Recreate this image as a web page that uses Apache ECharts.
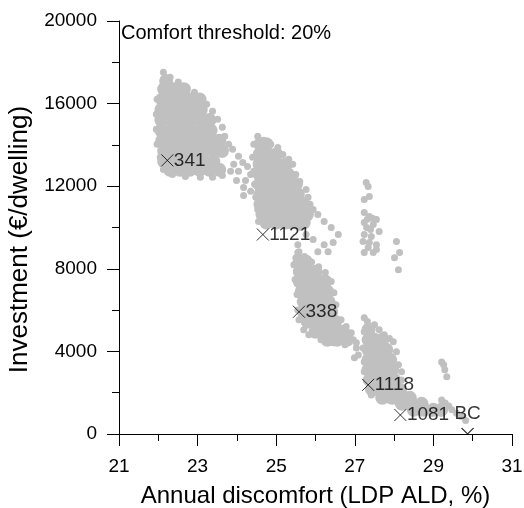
<!DOCTYPE html>
<html>
<head>
<meta charset="utf-8">
<script src="https://cdn.jsdelivr.net/npm/echarts@6/dist/echarts.min.js"></script>
<style>
  html, body { margin: 0; padding: 0; background: #fff; }
  #chart { width: 524px; height: 508px; }
</style>
</head>
<body>
<div id="chart"></div>
<script>
var FONT = 'Liberation Sans, Arial, sans-serif';

// axis ticks
var xTicks = [21, 23, 25, 27, 29, 31];
var yTicks = [0, 4000, 8000, 12000, 16000, 20000];

// dense cores of each cloud (drawn with big dots) and the loose rim dots
var cloud1Core = [
  [22.2,17100],
  [22.15,16700],[22.4,16700],[22.65,16700],
  [22.1,16200],[22.35,16200],[22.6,16200],[22.85,16200],[23.05,16200],
  [22.08,15700],[22.33,15700],[22.58,15700],[22.83,15700],[23.08,15700],
  [22.08,15200],[22.33,15200],[22.58,15200],[22.83,15200],[23.08,15200],[23.3,15200],
  [22.08,14700],[22.33,14700],[22.58,14700],[22.83,14700],[23.08,14700],[23.33,14700],
  [22.1,14200],[22.35,14200],[22.6,14200],[22.85,14200],[23.1,14200],[23.35,14200],[23.55,14200],
  [22.15,13700],[22.4,13700],[22.65,13700],[22.9,13700],[23.15,13700],[23.4,13700],[23.62,13700],
  [22.15,13200],[22.4,13200],[22.65,13200],[22.9,13200],[23.15,13200],[23.4,13200],
  [22.3,12800],[22.55,12800],[22.8,12800],[23.05,12800],[23.3,12800],[23.55,12800]
];
var cloud1Rim = [
  [22.13,17520],[22.30,17280],[22.51,17040],[22.71,16800],[22.92,16550],[23.10,16310],
  [23.23,15970],[23.38,15630],[23.51,15240],[23.63,14850],[23.69,14420],[23.79,14030],[23.89,13790],
  [21.97,16210],[21.95,15480],[21.95,14760],[21.97,14030],[22.05,13400],[22.13,12810],
  [22.36,12570],[22.69,12470],[23.07,12430],[23.38,12430],[23.63,12520],[23.84,12720],
  [24.04,13450],[24.15,13150],[23.92,13060],[24.27,12960],[24.04,12720],[24.35,12570],
  [23.99,12280],[24.22,12280],[24.48,12090],[24.17,11940],[24.35,11750],[24.17,11550],[24.55,11550]
];

var cloud2Core = [
  [24.6,14030],[24.75,14030],
  [24.58,13540],[24.78,13540],[25.0,13540],
  [24.58,13060],[24.78,13060],[25.0,13060],[25.25,13060],
  [24.58,12570],[24.8,12570],[25.05,12570],[25.3,12570],
  [24.58,12090],[24.8,12090],[25.05,12090],[25.3,12090],[25.5,12090],
  [24.6,11600],[24.8,11600],[25.05,11600],[25.3,11600],[25.55,11600],
  [24.6,11120],[24.85,11120],[25.1,11120],[25.35,11120],[25.6,11120],[25.7,11120],
  [24.65,10630],[24.9,10630],[25.15,10630],[25.4,10630],[25.65,10630],[25.78,10630],
  [24.75,10240],[25.0,10240],[25.25,10240],[25.5,10240],[25.7,10240]
];
var cloud2Rim = [
  [24.53,14420],[24.68,14220],[24.86,14030],[25.04,13880],[25.17,13540],[25.32,13300],[25.42,13060],
  [25.50,12570],[25.60,12230],[25.76,11840],[25.81,11460],[25.86,11120],[25.94,10870],
  [24.43,14030],[24.40,13400],[24.43,12720],[24.45,12090],[24.48,11460],[24.53,10870],[24.55,10290],
  [25.63,10000],[25.37,10100],
  [26.06,10630],[26.22,10290],[26.40,10000],[26.58,9660],[26.45,9270],[26.22,9170],
  [26.32,8830],[26.06,8830],[25.94,9420],[25.76,9660],
  [25.55,9170],[25.58,8830],[25.50,8540],[25.45,8200]
];

var cloud3Core = [
  [25.6,8350],[25.75,8350],
  [25.6,7860],[25.85,7860],[26.0,7860],
  [25.6,7380],[25.85,7380],[26.1,7380],[26.25,7380],
  [25.65,6890],[25.9,6890],[26.15,6890],[26.3,6890],
  [25.7,6410],[25.95,6410],[26.15,6410],[26.33,6410],
  [25.7,5920],[25.95,5920],[26.2,5920],[26.4,5920],
  [25.8,5440],[26.05,5440],[26.3,5440],[26.5,5440],
  [26.0,4950],[26.25,4950],[26.5,4950],[26.7,4950],
  [26.3,4560],[26.55,4560],[26.8,4560]
];
var cloud3Rim = [
  [25.55,8790],[25.72,8600],[25.9,8330],[26.08,8100],[26.25,7820],[26.40,7380],[26.47,6840],
  [26.52,6260],[26.65,5530],[26.78,5200],[26.91,4900],[27.04,4420],
  [25.48,8200],[25.48,7480],[25.53,6750],[25.55,6000],[25.58,5530],[25.70,5050],[25.83,4810],
  [26.14,4560],[26.45,4420],[26.75,4320]
];

var cloud4Rim = [
  [27.29,12180],[27.34,11990],[27.24,11360],[27.37,11500],[27.24,10730],[27.37,10530],
  [27.55,10390],[27.24,10240],[27.47,10140],[27.62,9810],[27.24,9660],[27.42,9560],
  [27.21,9320],[27.37,9270],[27.55,9170],[27.34,9030],[27.24,8790],[27.47,8790],
  [27.55,8930],[27.3,10000],[27.4,9900],[27.45,10450],[27.32,10400],
  [28.06,9320],[28.14,8790],[28.01,8540],[28.11,7960]
];

var cloud5Core = [
  [27.35,5050],
  [27.35,4560],[27.5,4560],[27.7,4560],
  [27.35,4080],[27.55,4080],[27.8,4080],
  [27.35,3590],[27.55,3590],[27.8,3590],[27.9,3590],
  [27.35,3110],[27.55,3110],[27.8,3110],[27.95,3110],
  [27.38,2620],[27.6,2620],[27.85,2620],[28.0,2620],
  [27.45,2140],[27.7,2140],[27.95,2140],[28.15,2140],
  [27.7,1750],[27.95,1750],[28.2,1750],[28.4,1750],
  [28.2,1460],[28.45,1460],[28.7,1460],
  [28.5,1170],[28.75,1170],[29.0,1170],[29.2,1170]
];
var cloud5Rim = [
  [27.24,5630],[27.32,5450],[27.50,5290],[27.62,5050],[27.75,4810],[27.88,4620],[27.98,4470],
  [28.06,3980],[28.11,3350],[28.19,3010],[28.19,2620],
  [27.24,4950],[27.21,4170],[27.24,3490],[27.24,3010],[27.29,2620],[27.35,2140],[27.42,1890],
  [27.62,1750],[27.85,1650],[28.1,1500],[28.31,1410],[28.52,1260],[28.77,1070],[28.95,1000],
  [29.2,1020],[29.21,1650],[29.3,1500],[29.39,1360],[29.47,1170],[29.59,1000],[29.72,850],[29.82,650],
  [26.96,4560],[27.04,4170],[27.09,3830],[26.99,3690],
  [29.21,3490],[29.26,3350],[29.29,3110],[29.34,2770]
];

// labelled designs
var markX = [22.23, 24.66, 25.58, 27.34, 28.16, 29.87];
var markY = [13250, 9660, 5920, 2380, 920, 0];
var markNames = ['341', '1121', '338', '1118', '1081', 'BC'];

var grey = '#c0c0c0';
var coreData = [].concat(cloud1Core, cloud2Core, cloud3Core, cloud5Core);
var rimData = [].concat(cloud1Rim, cloud2Rim, cloud3Rim, cloud4Rim, cloud5Rim);

var markData = markX.map(function(x, i) {
  var d = { value: [x, markY[i]], name: markNames[i] };
  if (markNames[i] === 'BC') {
    // only the upper half of the cross shows above the axis
    d.symbol = 'path://M0,0L6,6L12,0';
    d.symbolSize = [12, 6];
    d.symbolOffset = [0, -3];
    d.label = { position: 'top', distance: 4 };
  }
  return d;
});

var chart = echarts.init(document.getElementById('chart'));

var axisText = { color: '#000', fontSize: 19, fontFamily: FONT };

chart.setOption({
  animation: false,
  title: {
    text: 'Comfort threshold: 20%',
    left: 121, top: 23, padding: 0,
    textStyle: { color: '#000', fontSize: 20, fontWeight: 'normal', fontFamily: FONT }
  },
  grid: { left: 119, right: 12, top: 21, bottom: 74, outerBoundsMode: 'none', containLabel: false },
  xAxis: {
    type: 'value',
    min: xTicks[0], max: xTicks[xTicks.length - 1], interval: xTicks[1] - xTicks[0],
    name: 'Annual discomfort (LDP ALD, %)',
    nameLocation: 'middle', nameGap: 50,
    nameTextStyle: { color: '#000', fontSize: 24, fontFamily: FONT },
    axisLine: { onZero: false, lineStyle: { color: '#000', width: 1 } },
    axisTick: { length: 12, lineStyle: { color: '#000' } },
    minorTick: { show: true, splitNumber: 2, length: 7, lineStyle: { color: '#000' } },
    axisLabel: Object.assign({ margin: 23 }, axisText),
    splitLine: { show: false }
  },
  yAxis: {
    type: 'value',
    min: yTicks[0], max: yTicks[yTicks.length - 1], interval: yTicks[1] - yTicks[0],
    name: 'Investment (\u20ac/dwelling)',
    nameLocation: 'middle', nameGap: 84,
    nameTextStyle: { color: '#000', fontSize: 26, fontFamily: FONT, padding: [0, 24, 0, 0] },
    axisLine: { show: true, onZero: false, lineStyle: { color: '#000', width: 1 } },
    axisTick: { show: true, length: 12, lineStyle: { color: '#000' } },
    minorTick: { show: true, splitNumber: 2, length: 7, lineStyle: { color: '#000' } },
    axisLabel: Object.assign({ margin: 22, formatter: function(v) { return String(v); } }, axisText),
    splitLine: { show: false }
  },
  series: [
    {
      name: 'core', type: 'scatter', symbolSize: 14, silent: true,
      itemStyle: { color: grey, opacity: 1 },
      data: coreData
    },
    {
      name: 'rim', type: 'scatter', symbolSize: 7, silent: true,
      itemStyle: { color: grey, opacity: 1 },
      data: rimData
    },
    {
      name: 'designs', type: 'scatter', silent: true,
      symbol: 'path://M0,0L10,10M10,0L0,10',
      symbolSize: 12,
      itemStyle: { color: 'rgba(0,0,0,0)', borderColor: '#000', borderWidth: 1 },
      label: {
        show: true, position: 'right', distance: 0,
        formatter: '{b}', color: '#000', fontSize: 19, fontFamily: FONT
      },
      data: markData,
      z: 5
    }
  ]
});
</script>
</body>
</html>
